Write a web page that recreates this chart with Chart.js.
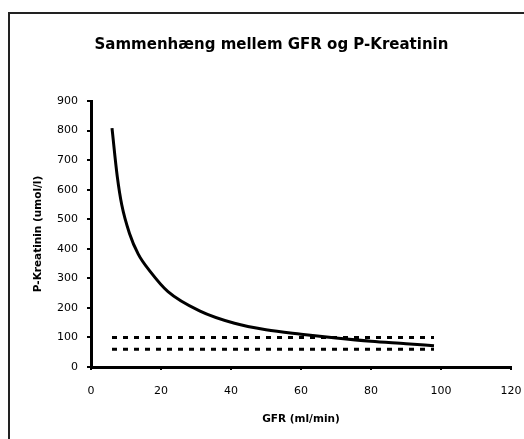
<!DOCTYPE html>
<html>
<head>
<meta charset="utf-8">
<script src="https://cdn.jsdelivr.net/npm/chart.js@4/dist/chart.umd.min.js"></script>
<style>
    body { margin: 0; background: #fff; }
    #ramme {
        position: absolute; left: 0; top: 0; width: 524px; height: 439px; overflow: hidden;
    }
    #kant {
        position: absolute; left: 8px; top: 12px; width: 600px; height: 600px;
        border-left: 2px solid #222; border-top: 2px solid #222;
    }
    canvas { position: absolute; left: 0; top: 0; }
</style>
</head>
<body>
<div id="ramme">
    <div id="kant"></div>
    <canvas id="kurve" width="524" height="439"></canvas>
</div>
<script>
// Data
const gfr = [6, 7.5, 8.8, 11, 13.5, 17, 22, 31, 41, 50, 60, 70, 80, 90, 98];
const kreatinin = [808, 645, 548, 452, 382, 322, 255, 190, 148, 126, 111, 98, 87, 79, 72];

// Stiplede referencelinjer
const refGfr = [6, 98];
const refOvre = [100, 100];
const refNedre = [60, 60];

const xTicks = [0, 20, 40, 60, 80, 100, 120];
const yTicks = [0, 100, 200, 300, 400, 500, 600, 700, 800, 900];

const titel = 'Sammenhæng mellem GFR og P-Kreatinin';
const xTitel = 'GFR (ml/min)';
const yTitel = 'P-Kreatinin (umol/l)';

const skrift = "'Comic Sans MS', 'DejaVu Sans', sans-serif";
const tal = "'DejaVu Sans', Verdana, sans-serif";

function punkter(xs, ys) {
    return xs.map((x, i) => ({ x: x, y: ys[i] }));
}

const ctx = document.getElementById('kurve').getContext('2d');
new Chart(ctx, {
    type: 'scatter',
    data: {
        datasets: [{
            data: punkter(gfr, kreatinin),
            showLine: true,
            borderColor: '#000',
            borderWidth: 3,
            pointRadius: 0,
            cubicInterpolationMode: 'monotone'
        }, {
            data: punkter(refGfr, refOvre),
            showLine: true,
            borderColor: '#000',
            borderWidth: 3,
            borderDash: [5, 6],
            pointRadius: 0
        }, {
            data: punkter(refGfr, refNedre),
            showLine: true,
            borderColor: '#000',
            borderWidth: 3,
            borderDash: [5, 6],
            pointRadius: 0
        }]
    },
    options: {
        responsive: false,
        animation: false,
        layout: { padding: { top: 13, left: 32, right: 13, bottom: 0 } },
        plugins: {
            legend: { display: false },
            tooltip: { enabled: false },
            title: {
                display: true,
                text: titel,
                color: '#000',
                font: { family: skrift, size: 15, weight: 'bold' },
                padding: { top: 23, bottom: 47 }
            }
        },
        scales: {
            x: {
                type: 'linear',
                min: 0,
                max: 120,
                afterBuildTicks: s => { s.ticks = xTicks.map(v => ({ value: v })); },
                afterFit: s => { s.height = 72; s.paddingLeft = 0; s.paddingRight = 0; },
                border: { color: '#000', width: 3 },
                grid: { drawOnChartArea: false, color: '#000', lineWidth: 2, tickLength: 3 },
                ticks: { color: '#000', font: { family: tal, size: 11 }, padding: 15, maxRotation: 0 },
                title: {
                    display: true, text: xTitel, color: '#000',
                    font: { family: skrift, size: 10.5, weight: 'bold' },
                    padding: { top: 0, bottom: 13 }
                }
            },
            y: {
                type: 'linear',
                min: 0,
                max: 900,
                afterBuildTicks: s => { s.ticks = yTicks.map(v => ({ value: v })); },
                afterFit: s => { s.width = 59; },
                border: { color: '#000', width: 3 },
                grid: { drawOnChartArea: false, color: '#000', lineWidth: 2, tickLength: 4 },
                ticks: { color: '#000', font: { family: tal, size: 11 }, padding: 9 },
                title: {
                    display: true, text: yTitel, color: '#000',
                    font: { family: skrift, size: 10.5, weight: 'bold' },
                    padding: { top: 0, bottom: 0 }
                }
            }
        }
    }
});
</script>
</body>
</html>
